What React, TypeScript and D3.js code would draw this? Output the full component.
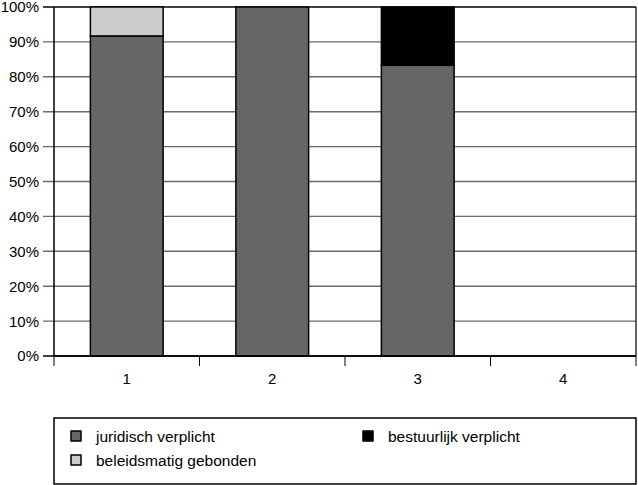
import React from "react";
import * as d3 from "d3";

const categories = ["1", "2", "3", "4"];
const juridisch = [91.7, 100, 83.3, 0];
const beleidsmatig = [8.3, 0, 0, 0];
const bestuurlijk = [0, 0, 16.7, 0];
const yTicks = [0, 10, 20, 30, 40, 50, 60, 70, 80, 90, 100];

const seriesNames = ["juridisch verplicht", "beleidsmatig gebonden", "bestuurlijk verplicht"];
const seriesColors = ["#666666", "#cccccc", "#000000"];

export default function App() {
  const W = 638, H = 485;
  const left = 54, right = 636, top = 7, bottom = 356;
  const x = d3.scaleBand<string>().domain(categories).range([left, right]).paddingInner(0.5).paddingOuter(0.25);
  const xb = d3.scaleBand<string>().domain(categories).range([left, right]);
  const y = d3.scaleLinear().domain([0, 100]).range([bottom, top]);

  const data = categories.map((c, i) => ({
    cat: c,
    juridisch: juridisch[i],
    beleidsmatig: beleidsmatig[i],
    bestuurlijk: bestuurlijk[i],
  }));
  const keys = ["juridisch", "beleidsmatig", "bestuurlijk"];
  const stack = d3.stack<any>().keys(keys)(data);

  const font = "'Liberation Sans', Arial, sans-serif";
  const boundaries = [...categories.map((c) => xb(c)!), right];

  return (
    <svg width={W} height={H} style={{ position: "absolute", left: 0, top: 0 }} fontFamily={font}>
      <rect x={0} y={0} width={W} height={H} fill="#fff" />
      {yTicks.map((t) => (
        <g key={t}>
          <line x1={43} x2={right} y1={y(t)} y2={y(t)} stroke={t === 0 || t === 100 ? "#000" : "#6a6a6a"} strokeWidth={t === 0 || t === 100 ? 1.5 : 1.4} />
          <text x={39} y={y(t)} dy="0.36em" textAnchor="end" fontSize={15}>{t}%</text>
        </g>
      ))}
      <line x1={left} x2={left} y1={top} y2={bottom} stroke="#000" strokeWidth={1.5} />
      <line x1={right} x2={right} y1={top} y2={bottom} stroke="#000" strokeWidth={1.2} />
      {stack.map((s, si) =>
        s.map((d, i) =>
          d[1] - d[0] > 0 ? (
            <rect
              key={`${si}-${i}`}
              x={x(categories[i])}
              width={x.bandwidth()}
              y={y(d[1])}
              height={y(d[0]) - y(d[1])}
              fill={seriesColors[si]}
              stroke="#000"
              strokeWidth={1.5}
            />
          ) : null
        )
      )}
      <line x1={left} x2={right} y1={bottom} y2={bottom} stroke="#000" strokeWidth={1.5} />
      {boundaries.map((b, i) => (
        <line key={i} x1={b} x2={b} y1={bottom} y2={bottom + 10} stroke="#000" strokeWidth={1} />
      ))}
      {categories.map((c) => (
        <text key={c} x={xb(c)! + xb.bandwidth() / 2} y={384} textAnchor="middle" fontSize={15}>{c}</text>
      ))}
      <rect x={54} y={418} width={582} height={66} fill="none" stroke="#000" strokeWidth={1.5} />
      {[
        { i: 0, lx: 71, ly: 431 },
        { i: 1, lx: 71, ly: 455 },
        { i: 2, lx: 363, ly: 431 },
      ].map(({ i, lx, ly }) => (
        <g key={i}>
          <rect x={lx} y={ly} width={10} height={10} fill={seriesColors[i]} stroke="#000" strokeWidth={1.5} />
          <text x={lx + 25} y={ly + 11} fontSize={15.5}>{seriesNames[i]}</text>
        </g>
      ))}
    </svg>
  );
}
